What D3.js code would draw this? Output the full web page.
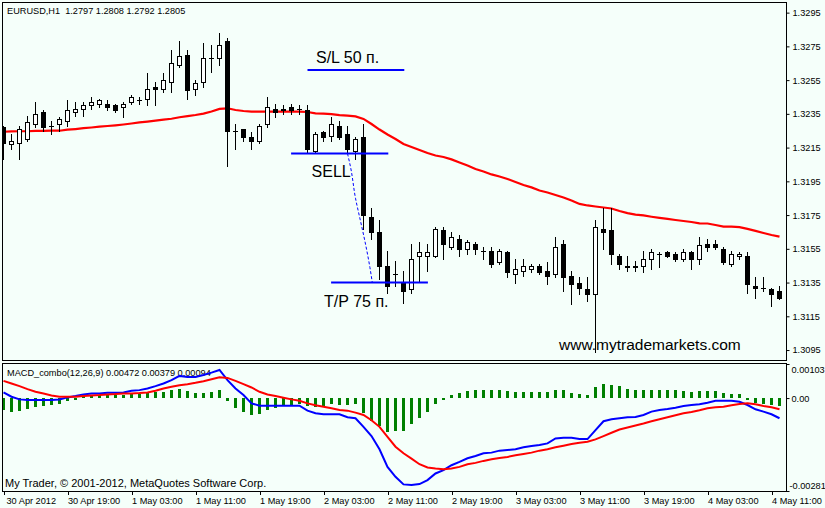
<!DOCTYPE html>
<html><head><meta charset="utf-8">
<script src="https://cdn.jsdelivr.net/npm/d3@7"></script>
<style>
html,body{margin:0;padding:0;background:#F5FFFA;overflow:hidden}
svg{display:block}
text{font-family:'Liberation Sans',Arial,sans-serif;fill:#000}
</style></head><body>
<svg id="c" width="825" height="508"></svg>
<script>
// ---------- DATA ----------
const opens = [1.3227,1.3217,1.3218,1.3220,1.3229,1.3236,1.3228,1.3229,1.3231,1.3236,
 1.3238,1.3240,1.3241,1.3241,1.3240,1.3239,1.3242,1.3243,1.3244,1.3251,
 1.3250,1.3254,1.3264,1.3270,1.3250,1.3254,1.3268,1.3268,1.3278,1.3225,
 1.3226,1.3221,1.3219,1.3229,1.3238,1.3238,1.3239,1.3238,1.3237,1.3213,
 1.3224,1.3222,1.3228,1.3223,1.3213,1.3221,1.3174,1.3165,1.3145,1.3140,
 1.3135,1.3131,1.3151,1.3151,1.3151,1.3166,1.3156,1.3161,1.3155,1.3158,
 1.3154,1.3154,1.3147,1.3153,1.3140,1.3142,1.3143,1.3145,1.3142,1.3140,
 1.3158,1.3139,1.3135,1.3131,1.3128,1.3167,1.3166,1.3151,1.3145,1.3145,
 1.3145,1.3149,1.3152,1.3153,1.3152,1.3149,1.3153,1.3149,1.3158,1.3158,
 1.3155,1.3146,1.3151,1.3151,1.3133,1.3132,1.3131,1.3130];
const highs = [1.3228,1.3223,1.3228,1.3234,1.3242,1.3237,1.3231,1.3233,1.3243,1.3242,
 1.3242,1.3245,1.3244,1.3243,1.3241,1.3242,1.3246,1.3245,1.3259,1.3254,
 1.3259,1.3273,1.3278,1.3273,1.3255,1.3277,1.3276,1.3283,1.3280,1.3229,
 1.3226,1.3224,1.3229,1.3245,1.3241,1.3240,1.3241,1.3240,1.3240,1.3224,
 1.3225,1.3233,1.3231,1.3228,1.3221,1.3229,1.3179,1.3172,1.3154,1.3148,
 1.3142,1.3158,1.3159,1.3158,1.3168,1.3168,1.3165,1.3163,1.3160,1.3159,
 1.3156,1.3156,1.3155,1.3154,1.3149,1.3149,1.3146,1.3146,1.3147,1.3162,
 1.3160,1.3142,1.3138,1.3138,1.3172,1.3179,1.3179,1.3152,1.3151,1.3148,
 1.3154,1.3155,1.3153,1.3154,1.3153,1.3155,1.3154,1.3162,1.3161,1.3160,
 1.3156,1.3154,1.3153,1.3153,1.3138,1.3138,1.3132,1.3133];
const lows = [1.3208,1.3214,1.3208,1.3219,1.3227,1.3225,1.3223,1.3225,1.3228,1.3234,
 1.3234,1.3238,1.3239,1.3237,1.3236,1.3233,1.3241,1.3241,1.3240,1.3240,
 1.3248,1.3248,1.3263,1.3244,1.3246,1.3251,1.3260,1.3264,1.3204,1.3214,
 1.3219,1.3214,1.3218,1.3227,1.3233,1.3235,1.3235,1.3235,1.3212,1.3212,
 1.3219,1.3219,1.3220,1.3212,1.3208,1.3167,1.3161,1.3137,1.3129,1.3133,
 1.3123,1.3129,1.3136,1.3142,1.3150,1.3149,1.3155,1.3151,1.3152,1.3152,
 1.3149,1.3144,1.3146,1.3138,1.3135,1.3139,1.3141,1.3140,1.3134,1.3138,
 1.3130,1.3122,1.3128,1.3124,1.3094,1.3155,1.3146,1.3143,1.3142,1.3142,
 1.3141,1.3143,1.3144,1.3150,1.3148,1.3148,1.3143,1.3146,1.3154,1.3155,
 1.3146,1.3145,1.3149,1.3129,1.3126,1.3130,1.3121,1.3125];
const closes = [1.3218,1.3219,1.3226,1.3230,1.3235,1.3227,1.3228,1.3232,1.3237,1.3238,
 1.3240,1.3242,1.3243,1.3239,1.3237,1.3241,1.3245,1.3243,1.3250,1.3250,
 1.3255,1.3265,1.3269,1.3249,1.3253,1.3268,1.3268,1.3276,1.3225,1.3225,
 1.3221,1.3219,1.3228,1.3239,1.3236,1.3237,1.3237,1.3238,1.3214,1.3223,
 1.3221,1.3229,1.3221,1.3214,1.3220,1.3175,1.3165,1.3145,1.3133,1.3140,
 1.3130,1.3149,1.3153,1.3153,1.3167,1.3158,1.3162,1.3155,1.3159,1.3155,
 1.3154,1.3146,1.3154,1.3141,1.3143,1.3145,1.3145,1.3141,1.3139,1.3156,
 1.3138,1.3134,1.3132,1.3128,1.3168,1.3165,1.3152,1.3146,1.3144,1.3144,
 1.3149,1.3153,1.3152,1.3151,1.3149,1.3153,1.3149,1.3157,1.3156,1.3156,
 1.3147,1.3152,1.3152,1.3134,1.3132,1.3132,1.3128,1.3126];
const movingAvg = [1.32244,1.32246,1.32247,1.32247,1.32249,1.32249,1.32250,1.32250,1.32256,1.32260,
 1.32265,1.32269,1.32274,1.32278,1.32282,1.32287,1.32293,1.32299,1.32304,1.32310,
 1.32316,1.32321,1.32330,1.32337,1.32343,1.32351,1.32364,1.32379,1.32383,1.32373,
 1.32367,1.32363,1.32363,1.32363,1.32363,1.32363,1.32363,1.32363,1.32361,1.32353,
 1.32351,1.32348,1.32343,1.32340,1.32335,1.32320,1.32290,1.32257,1.32228,1.32201,
 1.32171,1.32154,1.32136,1.32118,1.32103,1.32094,1.32080,1.32062,1.32044,1.32023,
 1.32008,1.31991,1.31979,1.31964,1.31946,1.31928,1.31914,1.31896,1.31884,1.31869,
 1.31854,1.31836,1.31816,1.31807,1.31801,1.31795,1.31789,1.31774,1.31762,1.31753,
 1.31748,1.31740,1.31733,1.31727,1.31721,1.31715,1.31709,1.31701,1.31700,1.31691,
 1.31682,1.31681,1.31679,1.31668,1.31656,1.31644,1.31632,1.31622];
const macdHist = [-0.00035,-0.00042,-0.00039,-0.00032,-0.00027,-0.00024,-0.00022,-0.00017,-0.00009,-0.00005,
 0.00008,0.00008,0.0001,0.0001,0.0001,0.0001,0.00013,0.00013,0.00016,0.00018,
 0.00018,0.00023,0.00028,0.0002,0.00016,0.00016,0.00018,0.00023,-0.00009,-0.0003,
 -0.00042,-0.0005,-0.00047,-0.00037,-0.0003,-0.00024,-0.0002,-0.00017,-0.00025,-0.00027,
 -0.00027,-0.00019,-0.0002,-0.0002,-0.00019,-0.00045,-0.0007,-0.00083,-0.00103,-0.00101,
 -0.00101,-0.00077,-0.00059,-0.00042,-0.00017,-0.00007,0.0001,0.00015,0.0002,0.00023,
 0.00023,0.00023,0.00023,0.0002,0.00018,0.00018,0.00018,0.00018,0.00018,0.00025,
 0.00023,0.00016,0.00011,0.00008,0.00033,0.00043,0.00041,0.00035,0.00028,0.00023,
 0.00023,0.00025,0.00023,0.00023,0.00023,0.0002,0.00018,0.0002,0.0002,0.0002,
 0.00015,0.00013,0.00011,-0.00007,-0.00014,-0.00019,-0.0002,-0.00024];
const macdMain = [0.00017,0.00004,-0.00004,-0.00006,-0.00006,-0.00006,-0.00006,-0.00004,0.00002,0.00006,
 0.00011,0.00014,0.00014,0.00016,0.00016,0.00017,0.00022,0.00024,0.00029,0.00036,
 0.00044,0.00054,0.00067,0.00064,0.00064,0.0007,0.00077,0.00085,0.00054,0.00029,
 0.00009,-0.00016,-0.00023,-0.00023,-0.00023,-0.00023,-0.00023,-0.00023,-0.00038,-0.00046,
 -0.00049,-0.00049,-0.00049,-0.00058,-0.00061,-0.00087,-0.00115,-0.00155,-0.00208,-0.00238,
 -0.00261,-0.00263,-0.0026,-0.00248,-0.00228,-0.00218,-0.00203,-0.00193,-0.00182,-0.00175,
 -0.00167,-0.00165,-0.00159,-0.00157,-0.00155,-0.00149,-0.00145,-0.00142,-0.00137,-0.00122,
 -0.0012,-0.0012,-0.00124,-0.00124,-0.00097,-0.0007,-0.00064,-0.00061,-0.00058,-0.00057,
 -0.00051,-0.00041,-0.00036,-0.00033,-0.00029,-0.00024,-0.00021,-0.00019,-0.00014,-0.00008,
 -0.00008,-0.00008,-0.00011,-0.00021,-0.00034,-0.00041,-0.00049,-0.00061];
const macdSignal = [0.00052,0.00044,0.00036,0.00027,0.00019,0.00014,0.00008,0.00004,0.00004,0.00004,
 0.00006,0.00008,0.00009,0.00011,0.00012,0.00014,0.00014,0.00015,0.00017,0.00022,
 0.00029,0.00034,0.00039,0.00042,0.00046,0.00051,0.00057,0.00063,0.00061,0.00052,
 0.00042,0.00032,0.00019,0.00011,0.00006,0.00001,-0.00004,-0.00008,-0.00016,-0.00022,
 -0.00026,-0.00031,-0.00036,-0.00038,-0.00044,-0.00051,-0.00067,-0.00087,-0.00117,-0.00147,
 -0.00167,-0.00183,-0.002,-0.0021,-0.00213,-0.00215,-0.00213,-0.00208,-0.002,-0.00196,
 -0.0019,-0.00185,-0.00181,-0.00178,-0.00173,-0.00169,-0.00165,-0.00159,-0.00155,-0.00149,
 -0.00144,-0.00139,-0.00135,-0.00132,-0.00125,-0.00115,-0.00105,-0.00095,-0.00089,-0.00083,
 -0.00077,-0.0007,-0.00064,-0.00058,-0.00052,-0.00046,-0.00042,-0.00037,-0.00031,-0.00028,
 -0.00026,-0.00022,-0.00018,-0.00016,-0.00019,-0.00024,-0.00028,-0.00034];
const priceTicks = [1.3295,1.3275,1.3255,1.3235,1.3215,1.3195,1.3175,1.3155,1.3135,1.3115,1.3095];
const macdTicks = [0.00103,0,-0.00281];
const timeTickBars = [0,8,16,24,32,40,48,56,64,72,80,88,96];
const timeLabels = ["30 Apr 2012","30 Apr 19:00","1 May 03:00","1 May 11:00","1 May 19:00","2 May 03:00",
 "2 May 11:00","2 May 19:00","3 May 03:00","3 May 11:00","3 May 19:00","4 May 03:00","4 May 11:00"];
const levelNames = ["S/L 50 п.","SELL","T/P 75 п."];
const levelPrices = [1.3261,1.32115,1.3135];
const levelFrom = [38.0,35.95,40.95];
const levelTo = [50.1,48.1,53.05];
const tradePathBar = [43.0,43.4,44.0,44.6,45.2,45.8,46.1];
const tradePathPrice = [1.32115,1.3203,1.3185,1.3172,1.3159,1.3144,1.3135];
const headerText = "EURUSD,H1  1.2797 1.2808 1.2792 1.2805";
const macdHeader = "MACD_combo(12,26,9) 0.00472 0.00379 0.00094";
const copyright = "My Trader, © 2001-2012, MetaQuotes Software Corp.";
const watermark = "www.mytrademarkets.com";

// ---------- DRAW ----------
const W=825,H=508, BG='#F5FFFA';
const svg=d3.select('#c');
svg.append('rect').attr('width',W).attr('height',H).attr('fill',BG);
const n=opens.length;
const x=d3.scaleLinear().domain([0,n-1]).range([3.5,3.5+8*(n-1)]);
const y=d3.scaleLinear().domain([1.30888,1.33013]).range([360.5,2]);
const ym=d3.scaleLinear().domain([-0.00281,0.00103]).range([491,364]);

const defs=svg.append('defs');
defs.append('clipPath').attr('id','clipMain').append('rect').attr('x',3).attr('y',3).attr('width',783).attr('height',357);
defs.append('clipPath').attr('id','clipMacd').append('rect').attr('x',3).attr('y',364).attr('width',783).attr('height',127);

const fs=9.2;
// header
svg.append('text').attr('x',7).attr('y',14).attr('font-size',fs).style('white-space','pre').text(headerText);

// main panel
const gm=svg.append('g').attr('clip-path','url(#clipMain)');
// watermark
gm.append('text').attr('x',559).attr('y',350).attr('font-size',15.5).text(watermark);

// moving average
gm.append('path').datum(movingAvg)
  .attr('d',d3.line().x((d,i)=>x(i)).y(d=>y(d)))
  .attr('fill','none').attr('stroke','#FF0000').attr('stroke-width',2.2);

// candles
const idx=d3.range(n);
gm.selectAll('line.wick').data(idx).join('line').attr('class','wick')
  .attr('x1',i=>x(i)).attr('x2',i=>x(i))
  .attr('y1',i=>Math.round(y(highs[i]))).attr('y2',i=>Math.round(y(lows[i]))+1)
  .attr('stroke','#000').attr('stroke-width',1).attr('shape-rendering','crispEdges');
idx.forEach(i=>{
  const t=Math.round(y(Math.max(opens[i],closes[i])));
  const b=Math.round(y(Math.min(opens[i],closes[i])));
  const bull=closes[i]>=opens[i];
  if(b-t<1){
    gm.append('line').attr('x1',x(i)-2.5).attr('x2',x(i)+2.5).attr('y1',t+0.5).attr('y2',t+0.5)
      .attr('stroke','#000').attr('shape-rendering','crispEdges');
  } else {
    gm.append('rect').attr('x',x(i)-2).attr('y',t+0.5).attr('width',4).attr('height',b-t)
      .attr('fill',bull?'#FFFFFF':'#000').attr('stroke','#000').attr('stroke-width',1)
      .attr('shape-rendering','crispEdges');
  }
});

// trade levels
levelPrices.forEach((p,k)=>{
  gm.append('line').attr('x1',x(levelFrom[k])).attr('x2',x(levelTo[k]))
    .attr('y1',y(p)).attr('y2',y(p)).attr('stroke','#0000FF').attr('stroke-width',2);
});
gm.append('path').datum(tradePathBar.map((b,k)=>[b,tradePathPrice[k]]))
  .attr('d',d3.line().x(d=>x(d[0])).y(d=>y(d[1])).curve(d3.curveMonotoneY))
  .attr('fill','none').attr('stroke','#0000FF').attr('stroke-width',1).attr('stroke-dasharray','3,2');
// level labels
gm.append('text').attr('x',x(levelFrom[0])+8.5).attr('y',y(levelPrices[0])-7.3).attr('font-size',16).text(levelNames[0]);
gm.append('text').attr('x',x(levelFrom[1])+20.5).attr('y',y(levelPrices[1])+23.6).attr('font-size',16).text(levelNames[1]);
gm.append('text').attr('x',x(levelFrom[2])-7).attr('y',y(levelPrices[2])+24).attr('font-size',16).text(levelNames[2]);

// price axis
const pa=svg.append('g').attr('transform','translate(786.5,0)')
  .call(d3.axisRight(y).tickValues(priceTicks).tickSize(3).tickPadding(3).tickFormat(d=>d.toFixed(4)));
pa.select('.domain').remove();
pa.selectAll('text').attr('font-size',fs).attr('font-family',"'Liberation Sans',Arial,sans-serif").attr('fill','#000');
pa.selectAll('line').attr('stroke','#000');

// MACD panel
svg.append('text').attr('x',7).attr('y',375.5).attr('font-size',fs).text(macdHeader);
const gd=svg.append('g').attr('clip-path','url(#clipMacd)');
gd.selectAll('rect.hist').data(idx).join('rect').attr('class','hist')
  .attr('x',i=>x(i)-1.5).attr('width',3)
  .attr('y',i=>Math.min(ym(0),ym(macdHist[i])))
  .attr('height',i=>Math.abs(ym(macdHist[i])-ym(0)))
  .attr('fill','#008000').attr('shape-rendering','crispEdges');
gd.append('path').datum(macdMain).attr('d',d3.line().x((d,i)=>x(i)).y(d=>ym(d)))
  .attr('fill','none').attr('stroke','#0000FF').attr('stroke-width',2);
gd.append('path').datum(macdSignal).attr('d',d3.line().x((d,i)=>x(i)).y(d=>ym(d)))
  .attr('fill','none').attr('stroke','#FF0000').attr('stroke-width',2);
svg.append('text').attr('x',5).attr('y',487).attr('font-size',11).text(copyright);

const ma=svg.append('g').attr('transform','translate(786.5,0)')
  .call(d3.axisRight(ym).tickValues(macdTicks).tickSize(3).tickPadding(3)
  .tickFormat(d=>d===0?'0.00':d.toFixed(5)));
ma.select('.domain').remove();
ma.selectAll('text').attr('font-size',fs).attr('font-family',"'Liberation Sans',Arial,sans-serif").attr('fill','#000')
  .attr('dy',d=>d===0?'0.32em':(d>0?'0.95em':'-0.3em'))
  .attr('x',d=>d<0?3:5);
ma.selectAll('line').attr('stroke','#000');

// time axis
const ta=svg.append('g').attr('transform','translate(0,491.5)')
  .call(d3.axisBottom(x).tickValues(timeTickBars).tickSize(3).tickPadding(2.5).tickFormat((d,k)=>timeLabels[k]));
ta.select('.domain').remove();
ta.selectAll('text').attr('font-size',fs).attr('font-family',"'Liberation Sans',Arial,sans-serif").attr('fill','#000')
  .attr('text-anchor','start').attr('x',(d,k)=>k===0?2.5:0);
ta.selectAll('line').attr('stroke','#000').attr('shape-rendering','crispEdges');

// frames
svg.append('rect').attr('x',2.5).attr('y',2.5).attr('width',784).attr('height',358)
  .attr('fill','none').attr('stroke','#000').attr('shape-rendering','crispEdges');
svg.append('rect').attr('x',2.5).attr('y',363.5).attr('width',784).attr('height',128)
  .attr('fill','none').attr('stroke','#000').attr('shape-rendering','crispEdges');
</script>
</body></html>
